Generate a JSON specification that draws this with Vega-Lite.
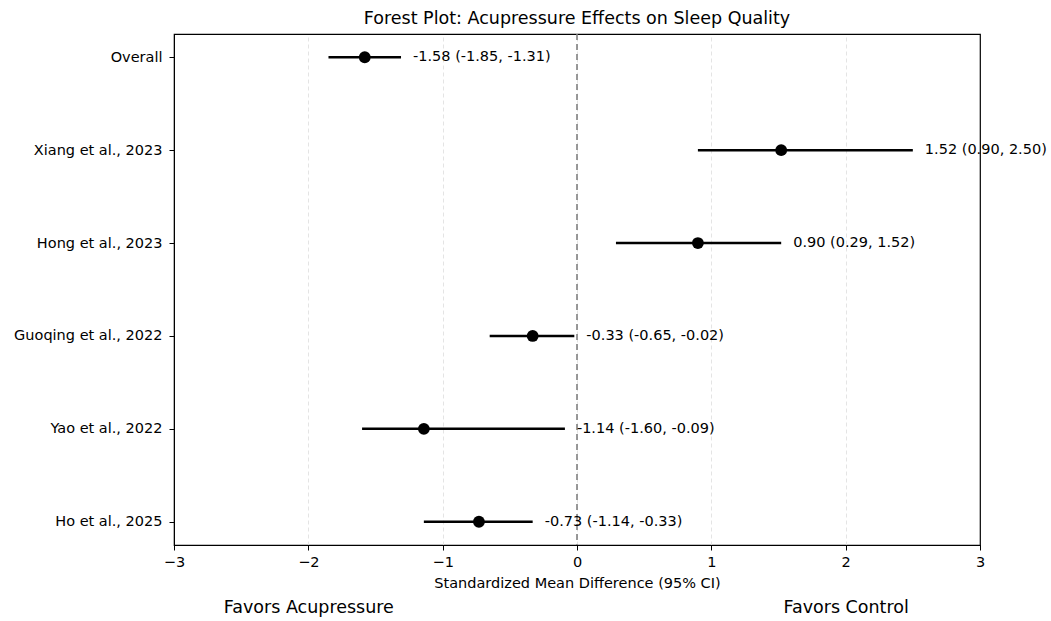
{
  "$schema": "https://vega.github.io/schema/vega-lite/v6.json",
  "width": 806,
  "height": 511,
  "autosize": "none",
  "padding": {"left": 174, "top": 34, "right": 71, "bottom": 76},
  "background": "white",
  "title": {"text": "Forest Plot: Acupressure Effects on Sleep Quality", "fontSize": 17.5, "fontWeight": "normal", "font": "DejaVu Sans", "color": "black", "offset": 6},
  "config": {
    "font": "DejaVu Sans",
    "view": {"stroke": "black", "strokeWidth": 1.2},
    "axis": {"labelFont": "DejaVu Sans", "titleFont": "DejaVu Sans", "labelColor": "black", "titleColor": "black", "tickColor": "black", "domainColor": "black"}
  },
  "datasets": {
    "studies": [
      {"study": "Overall", "smd": -1.58, "lower": -1.85, "upper": -1.31, "label": "-1.58 (-1.85, -1.31)"},
      {"study": "Xiang et al., 2023", "smd": 1.52, "lower": 0.90, "upper": 2.50, "label": "1.52 (0.90, 2.50)"},
      {"study": "Hong et al., 2023", "smd": 0.90, "lower": 0.29, "upper": 1.52, "label": "0.90 (0.29, 1.52)"},
      {"study": "Guoqing et al., 2022", "smd": -0.33, "lower": -0.65, "upper": -0.02, "label": "-0.33 (-0.65, -0.02)"},
      {"study": "Yao et al., 2022", "smd": -1.14, "lower": -1.60, "upper": -0.09, "label": "-1.14 (-1.60, -0.09)"},
      {"study": "Ho et al., 2025", "smd": -0.73, "lower": -1.14, "upper": -0.33, "label": "-0.73 (-1.14, -0.33)"}
    ],
    "favors": [
      {"x": -2, "side": "Favors Acupressure"},
      {"x": 2, "side": "Favors Control"}
    ]
  },
  "resolve": {"axis": {"x": "independent"}},
  "layer": [
    {
      "data": {"name": "studies"},
      "mark": {"type": "rule", "strokeWidth": 2.5, "color": "black"},
      "encoding": {
        "x": {"field": "lower", "type": "quantitative", "scale": {"domain": [-3, 3], "nice": false, "zero": false},
          "axis": {"orient": "bottom", "values": [-3, -2, -1, 0, 1, 2, 3], "format": "d", "labelFontSize": 14.5, "labelFlush": false, "tickSize": 5, "labelPadding": 5, "grid": true, "gridDash": [4, 3], "gridColor": "#dddddd", "gridWidth": 0.8, "gridOpacity": {"condition": {"test": "abs(datum.value) >= 3", "value": 0}, "value": 1}, "title": "Standardized Mean Difference (95% CI)", "titleFontSize": 14.5, "titleFontWeight": "normal", "titlePadding": 8}},
        "x2": {"field": "upper"},
        "y": {"field": "study", "type": "nominal", "sort": null, "scale": {"type": "point", "padding": 0.25},
          "axis": {"title": null, "labelFontSize": 14.5, "tickSize": 5, "labelPadding": 7, "grid": false}}
      }
    },
    {
      "data": {"values": [{"zero": 0}]},
      "mark": {"type": "rule", "color": "#808080", "strokeWidth": 1.6, "strokeDash": [6, 4]},
      "encoding": {"x": {"field": "zero", "type": "quantitative", "axis": null}}
    },
    {
      "data": {"name": "studies"},
      "mark": {"type": "point", "filled": true, "color": "black", "opacity": 1, "size": 140},
      "encoding": {
        "x": {"field": "smd", "type": "quantitative", "axis": null},
        "y": {"field": "study", "type": "nominal", "sort": null}
      }
    },
    {
      "data": {"name": "studies"},
      "mark": {"type": "text", "align": "left", "baseline": "middle", "dx": 12, "fontSize": 14.5, "color": "black"},
      "encoding": {
        "x": {"field": "upper", "type": "quantitative", "axis": null},
        "y": {"field": "study", "type": "nominal", "sort": null},
        "text": {"field": "label"}
      }
    },
    {
      "data": {"name": "favors"},
      "mark": {"type": "point", "opacity": 0},
      "encoding": {
        "x": {"field": "x", "type": "quantitative",
          "axis": {"orient": "bottom", "offset": 51, "values": [-2, 2], "labelExpr": "datum.value < 0 ? 'Favors Acupressure' : 'Favors Control'", "labelFontSize": 17.5, "labelPadding": 2, "labelFlush": false, "ticks": false, "domain": false, "grid": false, "title": null}}
      }
    }
  ]
}
